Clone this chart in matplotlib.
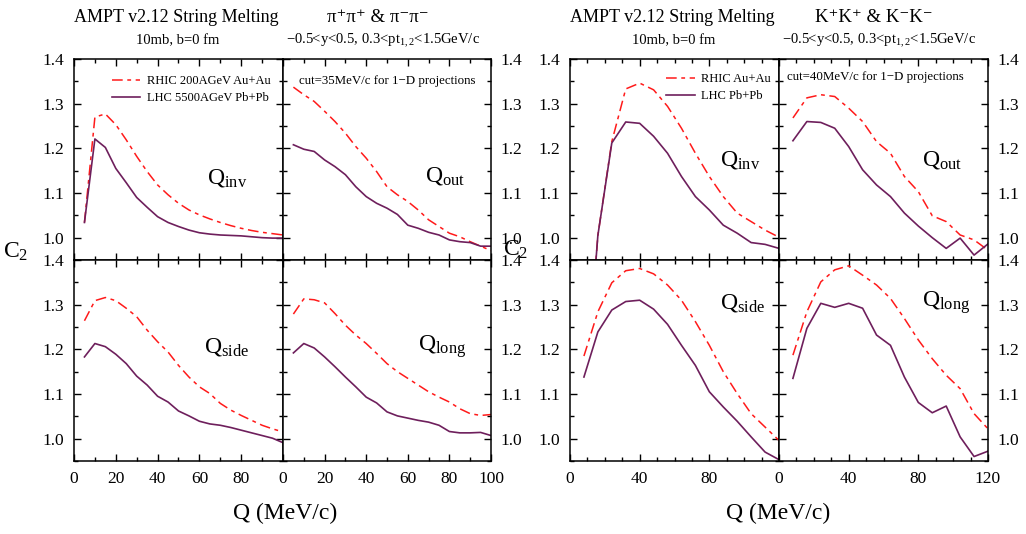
import numpy as np
import matplotlib.pyplot as plt
from matplotlib.ticker import MultipleLocator, FixedLocator, FormatStrFormatter

plt.rcParams['font.family'] = ['Liberation Serif', 'DejaVu Serif']
plt.rcParams['mathtext.fontset'] = 'custom'
plt.rcParams['mathtext.rm'] = 'Liberation Serif'
plt.rcParams['mathtext.it'] = 'Liberation Serif:italic'

# pion pairs, Q in MeV/c
q_pi = [5, 10, 15, 20, 25, 30, 35, 40, 45, 50, 55, 60, 65, 70, 75, 80, 85, 90, 95, 100]
pi_inv_rhic = [1.034, 1.270, 1.277, 1.253, 1.219, 1.182, 1.148, 1.118, 1.096, 1.077,
               1.062, 1.051, 1.042, 1.034, 1.027, 1.021, 1.016, 1.012, 1.009, 1.006]
pi_inv_lhc = [1.034, 1.221, 1.202, 1.155, 1.123, 1.090, 1.068, 1.047, 1.034, 1.025,
              1.017, 1.011, 1.008, 1.006, 1.005, 1.004, 1.002, 1.000, 0.999, 0.999]
pi_out_rhic = [1.337, 1.320, 1.305, 1.283, 1.260, 1.234, 1.204, 1.178, 1.148, 1.114,
               1.096, 1.081, 1.062, 1.040, 1.025, 1.010, 1.002, 0.991, 0.981, 0.971]
pi_out_lhc = [1.208, 1.198, 1.193, 1.174, 1.159, 1.141, 1.114, 1.092, 1.077, 1.066,
              1.052, 1.028, 1.021, 1.012, 1.006, 0.995, 0.991, 0.989, 0.981, 0.981]
pi_side_rhic = [1.264, 1.309, 1.316, 1.309, 1.292, 1.273, 1.243, 1.217, 1.194, 1.164,
                1.138, 1.116, 1.101, 1.079, 1.064, 1.052, 1.041, 1.030, 1.022, 1.015]
pi_side_lhc = [1.183, 1.213, 1.206, 1.189, 1.168, 1.140, 1.120, 1.095, 1.082, 1.062,
               1.051, 1.039, 1.033, 1.030, 1.025, 1.019, 1.013, 1.007, 1.001, 0.991]
pi_long_rhic = [1.279, 1.313, 1.311, 1.304, 1.280, 1.254, 1.232, 1.213, 1.191, 1.168,
                1.150, 1.135, 1.120, 1.105, 1.093, 1.082, 1.067, 1.056, 1.052, 1.054]
pi_long_lhc = [1.192, 1.213, 1.203, 1.183, 1.161, 1.138, 1.116, 1.093, 1.080, 1.060,
               1.051, 1.046, 1.041, 1.037, 1.030, 1.016, 1.013, 1.013, 1.014, 1.007]

# kaon pairs
q_k = [8, 16, 24, 32, 40, 48, 56, 64, 72, 80, 88, 96, 104, 112, 120]
k_inv_rhic = [0.60, 1.005, 1.215, 1.333, 1.346, 1.331, 1.294, 1.245, 1.189, 1.137,
              1.092, 1.055, 1.036, 1.017, 1.001]
k_inv_lhc = [0.60, 1.005, 1.212, 1.259, 1.256, 1.227, 1.189, 1.137, 1.092, 1.062,
             1.028, 1.010, 0.989, 0.985, 0.976]
k_out_rhic = [1.268, 1.313, 1.320, 1.316, 1.290, 1.260, 1.215, 1.189, 1.137, 1.103,
              1.049, 1.036, 1.006, 0.995, 0.972]
k_out_lhc = [1.217, 1.260, 1.258, 1.245, 1.204, 1.152, 1.118, 1.092, 1.055, 1.026,
             1.000, 0.976, 0.999, 0.961, 0.986]
k_side_rhic = [1.185, 1.284, 1.349, 1.376, 1.381, 1.369, 1.344, 1.310, 1.262, 1.209,
               1.150, 1.101, 1.056, 1.026, 0.996]
k_side_lhc = [1.138, 1.239, 1.288, 1.307, 1.310, 1.290, 1.256, 1.209, 1.164, 1.105,
              1.071, 1.039, 1.004, 0.970, 0.953]
k_long_rhic = [1.187, 1.284, 1.351, 1.378, 1.387, 1.366, 1.344, 1.314, 1.269, 1.221,
               1.179, 1.142, 1.112, 1.056, 1.022]
k_long_lhc = [1.135, 1.247, 1.303, 1.294, 1.303, 1.292, 1.232, 1.209, 1.138, 1.081,
              1.058, 1.073, 1.004, 0.960, 0.972]

red = '#ff1a1a'
purple = '#6e1f5c'
dashdot = (0, (7, 3, 2.5, 3))

W, H = 1026, 534
fig = plt.figure(figsize=(W / 100, H / 100), dpi=100)


def make_ax(x0, y0, x1, y1):
    return fig.add_axes([x0 / W, 1 - y1 / H, (x1 - x0) / W, (y1 - y0) / H])


def style(ax, xmax, xmajor, yside, xlabels, hide_last):
    ax.set_xlim(0, xmax)
    ax.set_ylim(0.95, 1.4)
    ax.xaxis.set_major_locator(MultipleLocator(xmajor))
    ax.xaxis.set_minor_locator(MultipleLocator(10))
    ax.yaxis.set_major_locator(FixedLocator([1.0, 1.1, 1.2, 1.3, 1.4]))
    ax.yaxis.set_minor_locator(MultipleLocator(0.05))
    ax.yaxis.set_major_formatter(FormatStrFormatter('%.1f'))
    ax.tick_params(which='both', direction='in', top=True, right=True, width=1.0)
    ax.tick_params(which='major', length=5, pad=7, labelsize=12.5)
    ax.tick_params(which='minor', length=3)
    if yside == 'right':
        ax.tick_params(labelleft=False, labelright=True)
    if xlabels:
        ticks = np.arange(0, xmax + 1, xmajor)
        labs = ['%d' % t for t in ticks]
        if hide_last:
            labs[-1] = ''
        ax.set_xticks(ticks)
        ax.set_xticklabels(labs)
    else:
        ax.tick_params(labelbottom=False)
    for s in ax.spines.values():
        s.set_linewidth(1.1)


def panel(ax, q, rhic, lhc, name, lx, ly):
    ax.plot(q, rhic, color=red, lw=1.1, ls=dashdot)
    ax.plot(q, lhc, color=purple, lw=1.2)
    ax.text(lx, ly, 'Q$_{\\mathrm{' + name + '}}$', transform=ax.transAxes,
            fontsize=17, va='center', ha='left')


# pions
xl, xm, xr = 74, 283, 491
yt, ym, yb = 59, 260, 461
a1 = make_ax(xl, yt, xm, ym)
a2 = make_ax(xm, yt, xr, ym)
a3 = make_ax(xl, ym, xm, yb)
a4 = make_ax(xm, ym, xr, yb)
panel(a1, q_pi, pi_inv_rhic, pi_inv_lhc, 'inv', 0.636, 0.41)
panel(a2, q_pi, pi_out_rhic, pi_out_lhc, 'out', 0.684, 0.42)
panel(a3, q_pi, pi_side_rhic, pi_side_lhc, 'side', 0.622, 0.567)
panel(a4, q_pi, pi_long_rhic, pi_long_lhc, 'long', 0.65, 0.567)
style(a1, 100, 20, 'left', False, False)
style(a2, 100, 20, 'right', False, False)
style(a3, 100, 20, 'left', True, True)
style(a4, 100, 20, 'right', True, False)
a1.legend(a1.lines, ['RHIC 200AGeV Au+Au', 'LHC 5500AGeV Pb+Pb'], loc='upper left',
          bbox_to_anchor=(0.15, 0.95), frameon=False, fontsize=9, handlelength=2.3,
          handletextpad=0.5, labelspacing=0.4, borderpad=0)
a2.text(0.5, 0.89, 'cut=35MeV/c for 1\u2212D projections', transform=a2.transAxes,
        fontsize=9.3, ha='center', va='center')

# kaons
kl, km, kr = 570, 779, 988
b1 = make_ax(kl, yt, km, ym)
b2 = make_ax(km, yt, kr, ym)
b3 = make_ax(kl, ym, km, yb)
b4 = make_ax(km, ym, kr, yb)
panel(b1, q_k, k_inv_rhic, k_inv_lhc, 'inv', 0.718, 0.50)
panel(b2, q_k, k_out_rhic, k_out_lhc, 'out', 0.684, 0.50)
panel(b3, q_k, k_side_rhic, k_side_lhc, 'side', 0.718, 0.786)
panel(b4, q_k, k_long_rhic, k_long_lhc, 'long', 0.684, 0.786)
style(b1, 120, 40, 'left', False, False)
style(b2, 120, 40, 'right', False, False)
style(b3, 120, 40, 'left', True, True)
style(b4, 120, 40, 'right', True, False)
b1.legend(b1.lines, ['RHIC Au+Au', 'LHC Pb+Pb'], loc='upper left',
          bbox_to_anchor=(0.43, 0.96), frameon=False, fontsize=9, handlelength=2.3,
          handletextpad=0.5, labelspacing=0.4, borderpad=0)
b2.text(0.04, 0.91, 'cut=40MeV/c for 1\u2212D projections', transform=b2.transAxes,
        fontsize=9.3, ha='left', va='center')

# titles and labels
for x0, sym in [(0, '\u03c0\u207a\u03c0\u207a & \u03c0\u207b\u03c0\u207b'),
                (496, 'K\u207aK\u207a & K\u207bK\u207b')]:
    fig.text((176 + x0) / W, 1 - 17 / H, 'AMPT v2.12 String Melting', fontsize=13,
             ha='center', va='center')
    fig.text((178 + x0) / W, 1 - 41 / H, '10mb, b=0 fm', fontsize=10.5,
             ha='center', va='center')
    fig.text((378 + x0) / W, 1 - 17 / H, sym, fontsize=13.5, ha='center', va='center')
    fig.text((383 + x0) / W, 1 - 41 / H,
             '\u22120.5<y<0.5, 0.3<pt$_{1,2}$<1.5GeV/c', fontsize=10.5,
             ha='center', va='center')

fig.text(285 / W, 1 - 513 / H, 'Q (MeV/c)', fontsize=17, ha='center', va='center')
fig.text(778 / W, 1 - 513 / H, 'Q (MeV/c)', fontsize=17, ha='center', va='center')
fig.text(16 / W, 1 - 252 / H, 'C$_2$', fontsize=17, ha='center', va='center')
fig.text(516 / W, 1 - 250 / H, 'C$_2$', fontsize=17, ha='center', va='center')

fig.savefig('out.png', dpi=100)
